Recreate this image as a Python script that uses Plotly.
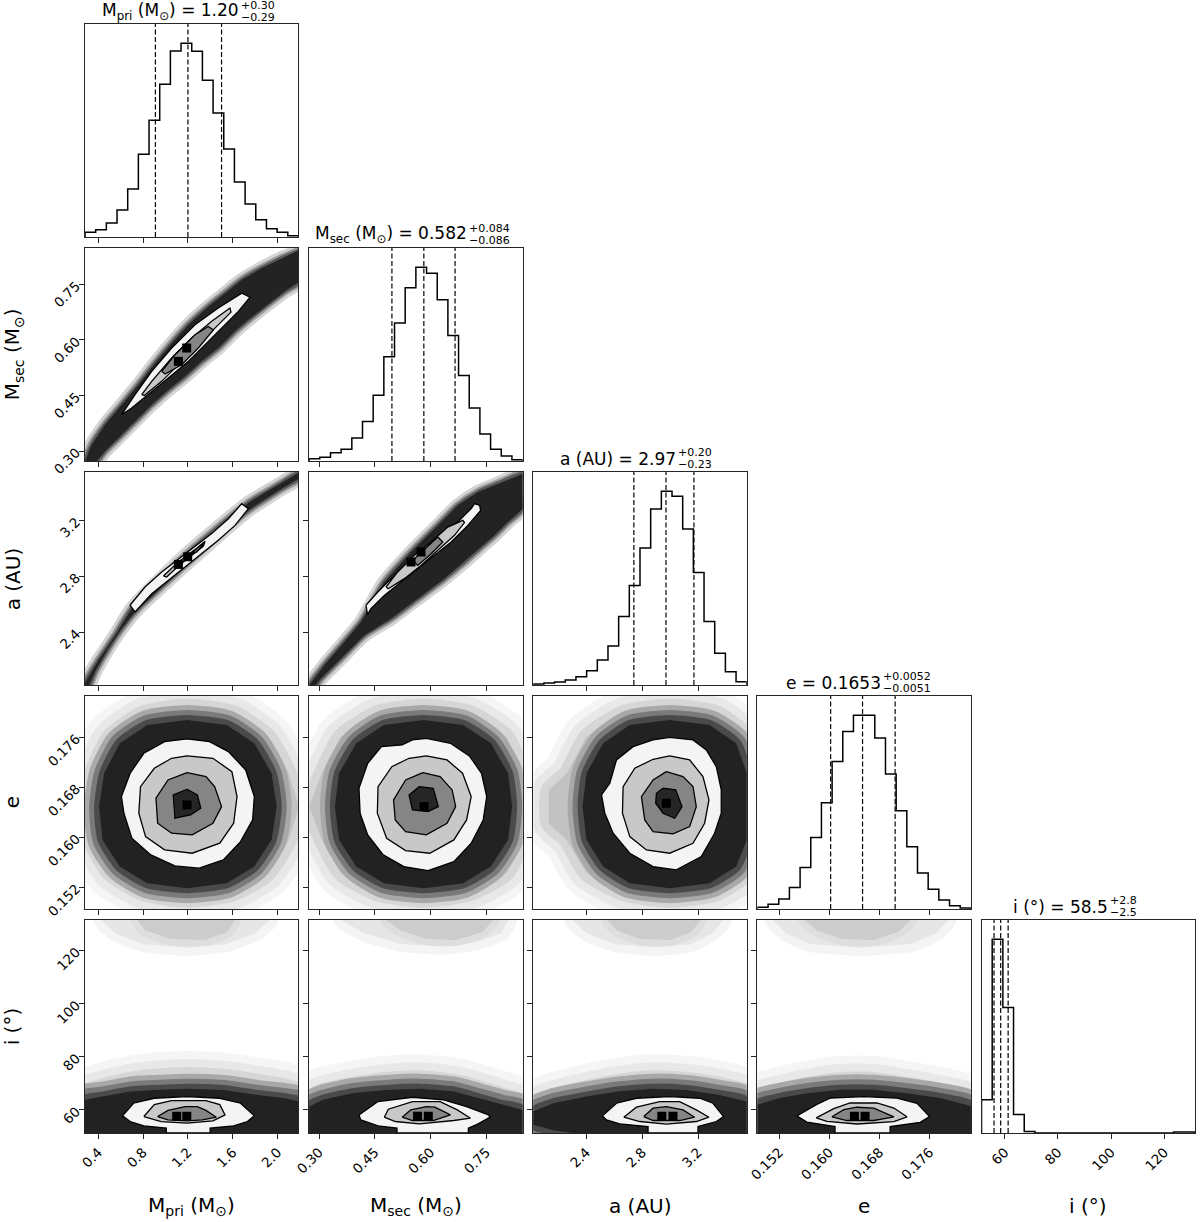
import numpy as np
import plotly.graph_objects as go
from plotly.subplots import make_subplots

# ── parameters / labels ───────────────────────────────────────────────
AXIS_LABELS = ["M<sub>pri</sub> (M<sub>⊙</sub>)", "M<sub>sec</sub> (M<sub>⊙</sub>)", "a (AU)", "e", "i (°)"]
TITLE_MAIN = ["M<sub>pri</sub> (M<sub>⊙</sub>) = 1.20", "M<sub>sec</sub> (M<sub>⊙</sub>) = 0.582",
              "a (AU) = 2.97", "e = 0.1653", "i (°) = 58.5"]
TITLE_PLUS = ["+0.30", "+0.084", "+0.20", "+0.0052", "+2.8"]
TITLE_MINUS = ["−0.29", "−0.086", "−0.23", "−0.0051", "−2.5"]

RANGE_MPRI = [0.282, 2.186]
RANGE_MSEC = [0.273, 0.848]
RANGE_A = [2.02, 3.548]
RANGE_E = [0.1485, 0.1826]
RANGE_I = [51.3, 131.5]

TICKS_MPRI = [0.4, 0.8, 1.2, 1.6, 2.0]
TICKS_MSEC = [0.30, 0.45, 0.60, 0.75]
TICKS_A = [2.4, 2.8, 3.2]
TICKS_E = [0.152, 0.160, 0.168, 0.176]
TICKS_I = [60, 80, 100, 120]
TICKTEXT_MPRI = ["0.4", "0.8", "1.2", "1.6", "2.0"]
TICKTEXT_MSEC = ["0.30", "0.45", "0.60", "0.75"]
TICKTEXT_A = ["2.4", "2.8", "3.2"]
TICKTEXT_E = ["0.152", "0.160", "0.168", "0.176"]
TICKTEXT_I = ["60", "80", "100", "120"]

# 1D histograms (20 bins across each axis range)
HIST_MPRI = [14, 22, 42, 81, 144, 248, 350, 458, 558, 581, 557, 470, 372, 264, 165, 99, 52, 25, 14, 4]
HIST_MSEC = [7, 11, 25, 35, 69, 119, 198, 313, 415, 521, 582, 564, 485, 377, 257, 159, 81, 35, 15, 4]
HIST_A = [3, 6, 9, 15, 25, 43, 75, 117, 205, 298, 410, 527, 580, 565, 467, 337, 190, 95, 40, 10]
HIST_E = [5, 13, 28, 60, 115, 199, 295, 410, 493, 538, 538, 475, 375, 273, 173, 100, 55, 25, 9, 3]
HIST_I = [93, 543, 352, 52, 4, 0, 0, 0, 0, 0, 0, 0, 0, 0, 0, 0, 0, 0, 3, 3]

# 16 / 50 / 84 % quantiles
Q_MPRI = [0.91, 1.20, 1.50]
Q_MSEC = [0.496, 0.582, 0.666]
Q_A = [2.74, 2.97, 3.17]
Q_E = [0.1602, 0.1653, 0.1705]
Q_I = [56.0, 58.5, 61.3]

# ── 2D panels: sample cloud outlines, contour outlines, peak bins ─────
P21_CLOUD = [(0.282, 0.272), (0.341, 0.317), (0.460, 0.371), (0.609, 0.425), (0.758, 0.479), (0.906, 0.537),
             (1.055, 0.591), (1.204, 0.641), (1.382, 0.690), (1.531, 0.726), (1.680, 0.762), (1.858, 0.794),
             (2.036, 0.821), (2.20, 0.8435), (2.20, 0.85), (2.20, 0.758), (2.066, 0.731), (1.888, 0.690),
             (1.739, 0.654), (1.620, 0.623), (1.471, 0.578), (1.323, 0.542), (1.174, 0.501), (1.025, 0.465),
             (0.877, 0.425), (0.728, 0.380), (0.579, 0.335), (0.460, 0.299), (0.371, 0.267), (0.282, 0.267)]
P21_C1 = [(0.609, 0.398), (0.728, 0.452), (0.877, 0.515), (1.055, 0.578), (1.263, 0.641), (1.471, 0.686),
          (1.680, 0.726), (1.754, 0.715), (1.650, 0.677), (1.531, 0.641), (1.382, 0.596), (1.204, 0.542),
          (1.025, 0.497), (0.847, 0.452), (0.698, 0.416)]
P21_C2 = [(0.788, 0.452), (0.877, 0.488), (1.055, 0.551), (1.234, 0.605), (1.412, 0.650), (1.575, 0.686),
          (1.584, 0.675), (1.471, 0.641), (1.293, 0.587), (1.115, 0.533), (0.966, 0.488), (0.811, 0.450)]
P21_C3 = [(0.966, 0.515), (1.085, 0.560), (1.263, 0.614), (1.382, 0.636), (1.427, 0.627), (1.293, 0.578),
          (1.144, 0.533), (0.996, 0.508)]
P21_PEAKS = [(1.115, 0.542), (1.189, 0.578)]

P31_CLOUD = [(0.282, 2.037), (0.401, 2.197), (0.550, 2.376), (0.698, 2.568), (1.174, 2.950), (1.739, 3.328),
             (1.888, 3.400), (2.036, 3.471), (2.20, 3.548), (2.20, 3.505), (2.036, 3.428), (1.888, 3.352),
             (1.739, 3.273), (1.174, 2.878), (0.728, 2.544), (0.609, 2.424), (0.490, 2.281), (0.371, 2.113),
             (0.312, 2.006), (0.282, 2.006)]
P31_C1 = [(0.683, 2.592), (0.817, 2.723), (0.966, 2.831), (1.115, 2.922), (1.263, 3.010), (1.412, 3.106),
          (1.561, 3.213), (1.680, 3.321), (1.739, 3.285), (1.620, 3.165), (1.471, 3.058), (1.323, 2.962),
          (1.174, 2.867), (1.025, 2.771), (0.877, 2.675), (0.728, 2.544)]
P31_C2 = [(0.981, 2.802), (1.115, 2.902), (1.263, 2.991), (1.353, 3.051), (1.338, 3.017), (1.234, 2.950),
          (1.115, 2.874), (1.010, 2.795)]
P31_C3 = [(1.234, 2.965), (1.308, 3.020), (1.338, 3.030), (1.278, 2.975)]
P31_PEAKS = [(1.115, 2.885), (1.198, 2.94)]

P32_CLOUD = [(0.273, 2.018), (0.3135, 2.161), (0.3675, 2.329), (0.4125, 2.472), (0.4755, 2.759), (0.5475, 2.974),
             (0.6195, 3.165), (0.6735, 3.309), (0.7275, 3.405), (0.7905, 3.476), (0.849, 3.536), (0.849, 3.285),
             (0.8085, 3.189), (0.7725, 3.094), (0.7365, 3.010), (0.6915, 2.902), (0.6375, 2.783), (0.5655, 2.639),
             (0.4935, 2.496), (0.4215, 2.376), (0.3585, 2.209), (0.3045, 2.065), (0.2865, 2.006), (0.273, 2.006)]
P32_C1 = [(0.426, 2.592), (0.458, 2.687), (0.494, 2.783), (0.5295, 2.867), (0.5655, 2.950), (0.6195, 3.070),
          (0.6645, 3.165), (0.7095, 3.285), (0.7185, 3.321), (0.732, 3.309), (0.735, 3.273), (0.7005, 3.165),
          (0.6555, 3.046), (0.6105, 2.950), (0.5655, 2.855), (0.5205, 2.759), (0.4755, 2.663), (0.4395, 2.568),
          (0.4305, 2.525)]
P32_C2 = [(0.480, 2.723), (0.5115, 2.831), (0.5565, 2.950), (0.6015, 3.046), (0.6465, 3.153), (0.687, 3.201),
          (0.6915, 3.185), (0.6645, 3.094), (0.6195, 2.986), (0.5745, 2.878), (0.5295, 2.783), (0.486, 2.711)]
P32_C3 = [(0.552, 2.914), (0.5835, 2.995), (0.6195, 3.082), (0.633, 3.046), (0.6015, 2.962), (0.5655, 2.878)]
P32_PEAKS = [(0.5745, 2.974), (0.5475, 2.902)]

P41_HALO = [(1.192, 0.1809), (1.608, 0.17983), (1.915, 0.1761), (2.100, 0.17023), (2.19, 0.16489),
            (2.100, 0.15956), (1.915, 0.15423), (1.608, 0.15103), (1.192, 0.14996), (0.807, 0.15103),
            (0.500, 0.15423), (0.331, 0.15956), (0.28, 0.16489), (0.346, 0.17023), (0.500, 0.1761),
            (0.807, 0.17983)]
P41_CORE = [(1.192, 0.17876), (1.546, 0.17796), (1.792, 0.17503), (1.946, 0.17023), (1.992, 0.16489),
            (1.946, 0.15956), (1.792, 0.15529), (1.546, 0.15263), (1.192, 0.15183), (0.838, 0.15263),
            (0.592, 0.15529), (0.438, 0.15956), (0.408, 0.16489), (0.453, 0.17023), (0.592, 0.17503),
            (0.838, 0.17796)]
P41_C1 = [(1.192, 0.17572), (1.392, 0.17529), (1.561, 0.17369), (1.715, 0.17076), (1.792, 0.16649),
          (1.777, 0.16276), (1.669, 0.15929), (1.515, 0.15636), (1.300, 0.15503), (1.084, 0.1554),
          (0.869, 0.15716), (0.700, 0.15983), (0.629, 0.16383), (0.607, 0.16649), (0.685, 0.17023),
          (0.807, 0.17343), (0.992, 0.17529)]
P41_C2 = [(1.192, 0.1730), (1.423, 0.17263), (1.592, 0.17049), (1.638, 0.16649), (1.608, 0.16223),
          (1.484, 0.15903), (1.238, 0.15743), (0.992, 0.15796), (0.822, 0.16009), (0.762, 0.16383),
          (0.777, 0.16809), (0.900, 0.17103), (1.054, 0.17263)]
P41_C3 = [(1.192, 0.17033), (1.361, 0.16969), (1.438, 0.16809), (1.500, 0.16489), (1.423, 0.16223),
          (1.238, 0.16036), (1.054, 0.16063), (0.930, 0.16223), (0.915, 0.16623), (1.022, 0.16916)]
P41_C4 = [(1.192, 0.16767), (1.284, 0.16676), (1.315, 0.16463), (1.223, 0.16356), (1.084, 0.16303),
          (1.069, 0.16676)]
P41_PEAKS = [(1.192, 0.16516)]

P42_HALO = [(0.5811, 0.1809), (0.7065, 0.17983), (0.8041, 0.1761), (0.848, 0.17023), (0.848, 0.16489),
            (0.848, 0.15956), (0.8041, 0.15423), (0.7065, 0.15103), (0.5811, 0.14996), (0.4559, 0.15103),
            (0.3582, 0.15423), (0.3073, 0.15956), (0.273, 0.16489), (0.3073, 0.17023), (0.3582, 0.1761),
            (0.4559, 0.17983)]
P42_CORE = [(0.5811, 0.17876), (0.6879, 0.17796), (0.7623, 0.17503), (0.8088, 0.17023), (0.8199, 0.16489),
            (0.8088, 0.15956), (0.7623, 0.15529), (0.6879, 0.15263), (0.5811, 0.15183), (0.4743, 0.15263),
            (0.4001, 0.15529), (0.3536, 0.15956), (0.3424, 0.16489), (0.3536, 0.17023), (0.4001, 0.17503),
            (0.4743, 0.17796)]
P42_C1 = [(0.5886, 0.17583), (0.6536, 0.17503), (0.7046, 0.1730), (0.7373, 0.17023), (0.7513, 0.16649),
          (0.7419, 0.16276), (0.7095, 0.15903), (0.6628, 0.15609), (0.5932, 0.15465), (0.5282, 0.15529),
          (0.4726, 0.15716), (0.4308, 0.16036), (0.4103, 0.16383), (0.4073, 0.16783), (0.4308, 0.17183),
          (0.4678, 0.17449), (0.5236, 0.17476), (0.5514, 0.17556)]
P42_C2 = [(0.5886, 0.1730), (0.6445, 0.17236), (0.6862, 0.17023), (0.7095, 0.16649), (0.6971, 0.16276),
          (0.6628, 0.15956), (0.5979, 0.15743), (0.5328, 0.15785), (0.4818, 0.15983), (0.4567, 0.16383),
          (0.4586, 0.16809), (0.4958, 0.17129), (0.5422, 0.17263)]
P42_C3 = [(0.5794, 0.17033), (0.6258, 0.16969), (0.6582, 0.16756), (0.6677, 0.16489), (0.6445, 0.16223),
          (0.5886, 0.16036), (0.5328, 0.16089), (0.505, 0.16276), (0.5004, 0.16596), (0.5328, 0.16916)]
P42_C4 = [(0.57, 0.16809), (0.6072, 0.16783), (0.621, 0.16489), (0.5932, 0.16409), (0.5514, 0.16436),
          (0.5422, 0.16676)]
P42_PEAKS = [(0.5825, 0.16489)]

P43_HALO = [(2.9966, 0.1809), (3.33, 0.17983), (3.548, 0.1761), (3.548, 0.17023), (3.548, 0.16489),
            (3.548, 0.15956), (3.548, 0.15423), (3.33, 0.15103), (2.9966, 0.14996), (2.6632, 0.15103),
            (2.4013, 0.15423), (2.2585, 0.15956), (2.13, 0.1622), (2.13, 0.1675), (2.2585, 0.17023),
            (2.4013, 0.1761), (2.6632, 0.17983)]
P43_CORE = [(2.9966, 0.17876), (3.2823, 0.17796), (3.4728, 0.17503), (3.548, 0.17023), (3.548, 0.16489),
            (3.548, 0.15956), (3.4728, 0.15529), (3.2823, 0.15263), (2.9966, 0.15183), (2.7109, 0.15263),
            (2.5204, 0.15529), (2.4013, 0.15956), (2.3728, 0.16489), (2.4013, 0.17023), (2.5204, 0.17503),
            (2.7109, 0.17796)]
P43_C1 = [(2.9966, 0.17599), (3.1632, 0.17556), (3.2585, 0.17396), (3.33, 0.17129), (3.3656, 0.16756),
          (3.3656, 0.16383), (3.318, 0.16063), (3.2228, 0.15689), (3.0442, 0.15476), (2.8775, 0.15529),
          (2.7109, 0.15743), (2.5918, 0.16063), (2.5323, 0.16383), (2.5085, 0.16676), (2.568, 0.16863),
          (2.6156, 0.17236), (2.7347, 0.17449), (2.8775, 0.17556)]
P43_C2 = [(2.9966, 0.1730), (3.1394, 0.17236), (3.2347, 0.16969), (3.2775, 0.16596), (3.2466, 0.16223),
          (3.1632, 0.15903), (2.9966, 0.15743), (2.8299, 0.15796), (2.7109, 0.16009), (2.6585, 0.16383),
          (2.6632, 0.16809), (2.7466, 0.17103), (2.8775, 0.17247)]
P43_C3 = [(2.9728, 0.17049), (3.0918, 0.16969), (3.1632, 0.16809), (3.187, 0.16489), (3.1394, 0.16169),
          (3.0204, 0.16052), (2.8775, 0.16089), (2.818, 0.16276), (2.7942, 0.16649), (2.8775, 0.16916)]
P43_C4 = [(2.9489, 0.16783), (3.0394, 0.16756), (3.0847, 0.16489), (3.0323, 0.16303), (2.9489, 0.16383),
          (2.8966, 0.16543), (2.9013, 0.16703)]
P43_PEAKS = [(2.9728, 0.16543)]

P51_HALO = [(0.28, 51.3), (0.28, 66.3), (0.438, 68.8), (0.685, 71.3), (0.900, 72.5), (1.192, 73.1),
            (1.515, 72.5), (1.823, 70.6), (2.069, 68.8), (2.19, 66.9), (2.19, 51.3)]
P51_CORE = [(0.28, 51.3), (0.28, 63.8), (0.438, 65.0), (0.685, 66.9), (0.900, 67.5), (1.192, 68.0),
            (1.515, 67.5), (1.823, 65.6), (2.069, 64.4), (2.19, 63.2), (2.19, 51.3)]
P51_C1 = [(0.617, 57.75), (0.715, 62.51), (0.900, 64.38), (1.192, 65.01), (1.484, 64.38), (1.669, 62.51),
          (1.792, 57.75), (1.730, 55.63), (1.608, 54.0), (1.398, 53.13), (1.398, 51.3), (1.007, 51.3),
          (1.007, 53.13), (0.807, 54.0), (0.685, 55.63)]
P51_C2 = [(0.807, 57.5), (0.900, 62.0), (1.054, 63.5), (1.361, 63.5), (1.484, 62.0), (1.531, 58.13),
          (1.423, 55.9), (1.192, 55.0), (0.961, 55.6)]
P51_C3 = [(0.930, 57.5), (1.022, 59.8), (1.177, 61.26), (1.284, 61.26), (1.361, 59.8), (1.453, 57.25),
          (1.330, 56.25), (1.192, 55.9), (1.022, 56.25)]
P51_PEAKS = [(1.10, 57.6), (1.19, 57.6)]
P51_BLOB1 = [(0.43, 131.5), (0.55, 126.5), (0.8, 122.5), (1.2, 121.0), (1.55, 122.5), (1.8, 126.5), (1.93, 131.5)]
P51_BLOB2 = [(0.75, 131.5), (0.82, 127.5), (1.05, 124.3), (1.35, 124.0), (1.55, 127.0), (1.62, 131.5)]

P52_HALO = [(0.273, 51.3), (0.273, 64.4), (0.31, 67.0), (0.39, 69.4), (0.48, 71.3), (0.57, 71.9),
            (0.66, 70.6), (0.73, 68.2), (0.79, 65.6), (0.848, 62.5), (0.848, 51.3)]
P52_CORE = [(0.273, 51.3), (0.273, 61.3), (0.31, 63.8), (0.39, 66.3), (0.48, 67.5), (0.57, 68.0),
            (0.66, 67.0), (0.73, 64.4), (0.79, 62.0), (0.848, 60.0), (0.848, 51.3)]
P52_C1 = [(0.4073, 58.13), (0.4586, 63.13), (0.5514, 64.76), (0.635, 63.76), (0.6971, 61.26), (0.7559, 58.13),
          (0.7605, 57.25), (0.7281, 54.75), (0.7019, 53.13), (0.7019, 51.3), (0.5096, 51.3), (0.5096, 53.13),
          (0.4586, 54.0), (0.4122, 56.25)]
P52_C2 = [(0.4753, 57.25), (0.4864, 60.26), (0.5514, 63.13), (0.6258, 63.13), (0.6722, 60.01), (0.7076, 56.88),
          (0.6628, 56.0), (0.57, 54.75), (0.505, 55.63)]
P52_C3 = [(0.5236, 57.25), (0.5468, 60.01), (0.5886, 61.26), (0.6118, 61.01), (0.6536, 58.13), (0.6072, 56.0),
          (0.5514, 56.0)]
P52_PEAKS = [(0.565, 57.6), (0.594, 57.6)]
P52_BLOB1 = [(0.36, 131.5), (0.42, 126.5), (0.52, 122.5), (0.63, 121.5), (0.72, 123.0), (0.79, 126.5), (0.81, 131.5)]
P52_BLOB2 = [(0.48, 131.5), (0.52, 127.5), (0.59, 124.3), (0.67, 124.0), (0.74, 127.0), (0.77, 131.5)]

P53_HALO = [(2.02, 53.1), (2.02, 61.3), (2.163, 65.0), (2.4013, 68.2), (2.6394, 70.6), (2.8775, 71.9),
            (3.1156, 71.3), (3.3537, 69.4), (3.548, 66.3), (3.548, 51.3), (2.2, 51.3)]
P53_CORE = [(2.02, 54.4), (2.02, 59.4), (2.163, 62.5), (2.4013, 65.0), (2.6394, 67.0), (2.8775, 68.0),
            (3.1156, 67.5), (3.3537, 65.6), (3.548, 63.2), (3.548, 51.3), (2.3, 51.3), (2.163, 52.3)]
P53_C1 = [(2.5156, 57.75), (2.6156, 62.51), (2.7585, 64.38), (2.9966, 65.01), (3.2109, 64.38), (3.3061, 62.51),
          (3.3823, 57.5), (3.33, 55.63), (3.199, 53.75), (3.199, 51.3), (2.8418, 51.3), (2.8418, 53.75),
          (2.6394, 54.75), (2.5442, 56.25)]
P53_C2 = [(2.668, 57.25), (2.7585, 61.01), (2.9251, 63.13), (3.068, 63.13), (3.187, 60.01), (3.2775, 57.25),
          (3.187, 55.63), (2.9728, 54.63), (2.7823, 55.63)]
P53_C3 = [(2.8109, 57.5), (2.8775, 60.63), (2.9728, 61.26), (3.0918, 60.01), (3.1751, 57.25), (3.068, 56.0),
          (2.8775, 56.0)]
P53_PEAKS = [(2.94, 57.6), (3.02, 57.6)]
P53_BLOB1 = [(2.3, 131.5), (2.4, 126.5), (2.6, 122.5), (2.9, 121.0), (3.15, 122.5), (3.3, 126.5), (3.38, 131.5)]
P53_BLOB2 = [(2.55, 131.5), (2.62, 127.5), (2.78, 124.3), (3.0, 124.0), (3.15, 127.0), (3.22, 131.5)]

P54_HALO = [(0.1485, 51.3), (0.1485, 64.5), (0.1521, 67.0), (0.1564, 69.4), (0.1617, 71.3), (0.1671, 71.3),
            (0.1724, 69.4), (0.1777, 67.0), (0.1826, 63.8), (0.1826, 51.3)]
P54_CORE = [(0.1485, 51.3), (0.1485, 62.0), (0.1521, 64.5), (0.1564, 66.3), (0.1617, 67.6), (0.1671, 67.6),
            (0.1724, 66.3), (0.1777, 64.5), (0.1826, 61.5), (0.1826, 51.3)]
P54_C1 = [(0.1548, 57.75), (0.1580, 62.1), (0.1601, 64.4), (0.1655, 65.0), (0.1708, 64.4), (0.1740, 62.5),
          (0.1760, 57.5), (0.1745, 55.3), (0.1697, 53.7), (0.1697, 51.3), (0.1609, 51.3), (0.1609, 53.7),
          (0.1564, 55.4)]
P54_C2 = [(0.1579, 57.0), (0.1607, 60.5), (0.1633, 62.6), (0.1676, 62.6), (0.1703, 60.7), (0.1724, 57.4),
          (0.1703, 55.6), (0.1644, 54.7), (0.1596, 55.7)]
P54_C3 = [(0.1604, 57.4), (0.1623, 60.1), (0.1644, 61.0), (0.1671, 60.7), (0.1703, 57.4), (0.1671, 56.0),
          (0.1628, 56.0)]
P54_PEAKS = [(0.1640, 57.6), (0.1657, 57.6)]
P54_BLOB1 = [(0.151, 131.5), (0.153, 126.5), (0.157, 122.5), (0.165, 121.0), (0.173, 122.5), (0.177, 126.5), (0.179, 131.5)]
P54_BLOB2 = [(0.156, 131.5), (0.158, 127.5), (0.162, 124.3), (0.167, 124.0), (0.171, 127.0), (0.173, 131.5)]

# ── styling ───────────────────────────────────────────────────────────
FONT = "DejaVu Sans"
FRAME = "#262626"
LEVEL_FILLS = ["#f4f4f4", "#c8c8c8", "#858585", "#262626"]
# cloud layers: fill colour + soft edge strokes (widest / palest first)
HALO_STYLE = ("#c2c2c2", [(48, "#f5f5f5"), (32, "#e8e8e8"), (16, "#d6d6d6")])
CORE_STYLE = ("#222222", [(30, "#a8a8a8"), (20, "#7a7a7a"), (10, "#4a4a4a")])
BAND_STYLE = ("#232323", [(14, "#d4d4d4"), (8, "#9a9a9a"), (4, "#5a5a5a")])
BLOB_STYLES = [("#e6e6e6", [(16, "#f4f4f4")]), ("#cccccc", [(12, "#dedede")])]

RANGES = [RANGE_MPRI, RANGE_MSEC, RANGE_A, RANGE_E, RANGE_I]
TICKS = [TICKS_MPRI, TICKS_MSEC, TICKS_A, TICKS_E, TICKS_I]
TICKTEXT = [TICKTEXT_MPRI, TICKTEXT_MSEC, TICKTEXT_A, TICKTEXT_E, TICKTEXT_I]
HISTS = [HIST_MPRI, HIST_MSEC, HIST_A, HIST_E, HIST_I]
QUANTS = [Q_MPRI, Q_MSEC, Q_A, Q_E, Q_I]
TITLE_SPLIT = [0.727, 0.746, 0.674, 0.583, 0.596]  # where the scripts start, as a fraction of panel width

PANELS = {
    (2, 1): dict(halo=None, core=P21_CLOUD, levels=[P21_C1, P21_C2, P21_C3], peaks=P21_PEAKS, blobs=[]),
    (3, 1): dict(halo=None, core=P31_CLOUD, levels=[P31_C1, P31_C2, P31_C3], peaks=P31_PEAKS, blobs=[]),
    (3, 2): dict(halo=None, core=P32_CLOUD, levels=[P32_C1, P32_C2, P32_C3], peaks=P32_PEAKS, blobs=[]),
    (4, 1): dict(halo=P41_HALO, core=P41_CORE, levels=[P41_C1, P41_C2, P41_C3, P41_C4], peaks=P41_PEAKS, blobs=[]),
    (4, 2): dict(halo=P42_HALO, core=P42_CORE, levels=[P42_C1, P42_C2, P42_C3, P42_C4], peaks=P42_PEAKS, blobs=[]),
    (4, 3): dict(halo=P43_HALO, core=P43_CORE, levels=[P43_C1, P43_C2, P43_C3, P43_C4], peaks=P43_PEAKS, blobs=[]),
    (5, 1): dict(halo=P51_HALO, core=P51_CORE, levels=[P51_C1, P51_C2, P51_C3], peaks=P51_PEAKS,
                 blobs=[P51_BLOB1, P51_BLOB2]),
    (5, 2): dict(halo=P52_HALO, core=P52_CORE, levels=[P52_C1, P52_C2, P52_C3], peaks=P52_PEAKS,
                 blobs=[P52_BLOB1, P52_BLOB2]),
    (5, 3): dict(halo=P53_HALO, core=P53_CORE, levels=[P53_C1, P53_C2, P53_C3], peaks=P53_PEAKS,
                 blobs=[P53_BLOB1, P53_BLOB2]),
    (5, 4): dict(halo=P54_HALO, core=P54_CORE, levels=[P54_C1, P54_C2, P54_C3], peaks=P54_PEAKS,
                 blobs=[P54_BLOB1, P54_BLOB2]),
}

# lower triangle only: the empty upper cells get no axes at all
specs = [[{} if c <= r else None for c in range(5)] for r in range(5)]
fig = make_subplots(rows=5, cols=5, specs=specs, horizontal_spacing=0.0096, vertical_spacing=0.0099)


def closed(pts):
    return [p[0] for p in pts] + [pts[0][0]], [p[1] for p in pts] + [pts[0][1]]


def add_poly(pts, row, col, fill, width=0.0):
    xs, ys = closed(pts)
    fig.add_trace(go.Scatter(
        x=xs, y=ys, mode="lines", fill="toself", fillcolor=fill,
        line=dict(color="black", width=width), hoverinfo="skip",
    ), row=row, col=col)


def add_soft(pts, row, col, style):
    """Cloud layer: wide pale strokes under an opaque fill give a soft edge."""
    fill, strokes = style
    xs, ys = closed(pts)
    for w, color in strokes:
        fig.add_trace(go.Scatter(x=xs, y=ys, mode="lines",
                                 line=dict(color=color, width=w, shape="spline", smoothing=0.6),
                                 hoverinfo="skip"), row=row, col=col)
    add_poly(pts, row, col, fill)


def axis_ref(row, col, letter):
    sp = fig.get_subplot(row, col)
    name = (sp.xaxis if letter == "x" else sp.yaxis).plotly_name  # e.g. "xaxis7"
    return name.replace("axis", "") + " domain"


# ── 2D panels ─────────────────────────────────────────────────────────
for (r, c), p in PANELS.items():
    if p["halo"]:
        add_soft(p["halo"], r, c, HALO_STYLE)
        add_soft(p["core"], r, c, CORE_STYLE)
    else:
        add_soft(p["core"], r, c, BAND_STYLE)
    for blob, style in zip(p["blobs"], BLOB_STYLES):
        add_soft(blob, r, c, style)
    for lvl, fill in zip(p["levels"], LEVEL_FILLS):
        add_poly(lvl, r, c, fill, width=1.3)
    fig.add_trace(go.Scatter(
        x=[q[0] for q in p["peaks"]], y=[q[1] for q in p["peaks"]], mode="markers",
        marker=dict(symbol="square", size=9, color="black"), hoverinfo="skip",
    ), row=r, col=c)

# ── 1D histograms ─────────────────────────────────────────────────────
for k, (counts, rng, qs) in enumerate(zip(HISTS, RANGES, QUANTS), start=1):
    edges = np.linspace(rng[0], rng[1], len(counts) + 1)
    xs = [edges[0]] + list(edges[:-1]) + [edges[-1], edges[-1]]
    ys = [0] + list(counts) + [counts[-1], 0]
    fig.add_trace(go.Scatter(
        x=xs, y=ys, mode="lines", line=dict(color="black", width=1.5, shape="hv"), hoverinfo="skip",
    ), row=k, col=k)
    for q in qs:
        fig.add_vline(x=q, line=dict(color="black", width=1.2, dash="5px,2.5px"), row=k, col=k)

# ── axes ──────────────────────────────────────────────────────────────
tick_font = dict(family=FONT, size=13.5, color="black")
for r in range(1, 6):
    for c in range(1, r + 1):
        fig.update_xaxes(
            range=RANGES[c - 1], tickvals=TICKS[c - 1], ticktext=TICKTEXT[c - 1],
            ticks="outside", ticklen=5, tickwidth=1, tickcolor=FRAME,
            showline=True, mirror=True, linecolor=FRAME, linewidth=1.2,
            showgrid=False, zeroline=False, showticklabels=(r == 5),
            tickangle=-45, tickfont=tick_font, row=r, col=c,
        )
        if c == r:
            fig.update_yaxes(
                range=[0, 1.1 * max(HISTS[r - 1])], ticks="", showticklabels=False,
                showline=True, mirror=True, linecolor=FRAME, linewidth=1.2,
                showgrid=False, zeroline=False, row=r, col=c,
            )
        else:
            fig.update_yaxes(
                range=RANGES[r - 1], tickvals=TICKS[r - 1], ticktext=TICKTEXT[r - 1],
                ticks="outside", ticklen=5, tickwidth=1, tickcolor=FRAME,
                showline=True, mirror=True, linecolor=FRAME, linewidth=1.2,
                showgrid=False, zeroline=False, showticklabels=(c == 1),
                tickangle=-45, tickfont=tick_font, row=r, col=c,
            )

# ── titles above the diagonal and axis labels ─────────────────────────
annotations = []
for k in range(1, 6):
    xr, yr = axis_ref(k, k, "x"), axis_ref(k, k, "y")
    split = TITLE_SPLIT[k - 1]
    annotations.append(dict(text=TITLE_MAIN[k - 1], xref=xr, yref=yr, x=split, y=1, xanchor="right",
                            yanchor="middle", yshift=13, borderpad=0, showarrow=False,
                            font=dict(family=FONT, size=17)))
    annotations.append(dict(text=TITLE_PLUS[k - 1], xref=xr, yref=yr, x=split, y=1, xanchor="left",
                            yanchor="middle", yshift=19, borderpad=0, showarrow=False,
                            font=dict(family=FONT, size=11)))
    annotations.append(dict(text=TITLE_MINUS[k - 1], xref=xr, yref=yr, x=split, y=1, xanchor="left",
                            yanchor="middle", yshift=7, borderpad=0, showarrow=False,
                            font=dict(family=FONT, size=11)))
    annotations.append(dict(text=AXIS_LABELS[k - 1], xref=axis_ref(5, k, "x"), yref="paper", x=0.5, y=-0.066,
                            xanchor="center", yanchor="middle", showarrow=False,
                            font=dict(family=FONT, size=20)))
    if k > 1:
        annotations.append(dict(text=AXIS_LABELS[k - 1], xref="paper", yref=axis_ref(k, 1, "y"), x=-0.065, y=0.5,
                                xanchor="center", yanchor="middle", textangle=-90, showarrow=False,
                                font=dict(family=FONT, size=20)))

fig.update_layout(
    width=1200, height=1222, autosize=False,
    margin=dict(l=85, r=5, t=24, b=89),
    paper_bgcolor="white", plot_bgcolor="white",
    showlegend=False,
    font=dict(family=FONT, color="black"),
    annotations=list(fig.layout.annotations) + annotations,
)

# drop the page's default 8 px body margin so the figure sits at the window corner
fig.write_html("out.html", config={"displayModeBar": False},
               post_script="document.body.style.margin = '0';")
